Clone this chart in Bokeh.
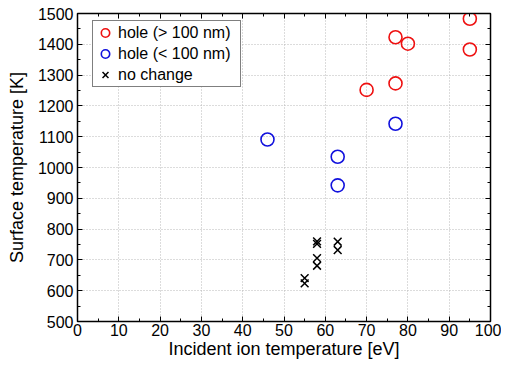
from bokeh.plotting import figure
from bokeh.models import LinearAxis, Range1d, Legend, LegendItem, FixedTicker
from bokeh.embed import file_html
from bokeh.resources import INLINE

# data
big_x = [95, 95, 77, 80, 70, 77]
big_y = [1483, 1383, 1423, 1402, 1252, 1273]
small_x = [46, 63, 63, 77]
small_y = [1091, 1035, 942, 1142]
none_x = [55, 55, 58, 58, 58, 58, 63, 63]
none_y = [641, 624, 760, 752, 706, 681, 759, 732]
x_ticks = [0, 10, 20, 30, 40, 50, 60, 70, 80, 90, 100]
y_ticks = [500, 600, 700, 800, 900, 1000, 1100, 1200, 1300, 1400, 1500]

FONT = "Liberation Sans"

p = figure(frame_width=413, frame_height=308, output_backend="svg", toolbar_location=None,
           x_range=Range1d(0, 100), y_range=Range1d(500, 1500),
           min_border_left=77, min_border_right=11, min_border_top=13, min_border_bottom=30)
p.outline_line_color = "black"
p.outline_line_width = 1.5

for ax in (p.xaxis[0], p.yaxis[0]):
    ax.major_label_text_font = FONT
    ax.major_label_text_font_size = "16px"
    ax.major_label_text_color = "black"
    ax.axis_label_text_font = FONT
    ax.axis_label_text_font_size = "18px"
    ax.axis_label_text_font_style = "normal"
    ax.axis_label_text_color = "black"
    ax.major_tick_in = 5
    ax.major_tick_out = 0
    ax.minor_tick_in = 3
    ax.minor_tick_out = 0
    ax.axis_line_color = "black"
    ax.major_tick_line_color = "black"
    ax.minor_tick_line_color = "black"
p.xaxis.major_label_standoff = 2
p.yaxis.major_label_standoff = 4
p.xaxis.ticker = FixedTicker(ticks=x_ticks, minor_ticks=list(range(0, 101, 5)))
p.yaxis.ticker = FixedTicker(ticks=y_ticks, minor_ticks=list(range(500, 1501, 50)))
p.xaxis.axis_label = "Incident ion temperature [eV]"
p.yaxis.axis_label = "Surface temperature [K]"
p.xaxis.axis_label_standoff = 0
p.yaxis.axis_label_standoff = 8

for loc, ticks, minor in (("right", y_ticks, list(range(500, 1501, 50))),
                           ("above", x_ticks, list(range(0, 101, 5)))):
    a = LinearAxis(ticker=FixedTicker(ticks=ticks, minor_ticks=minor))
    a.major_label_overrides = {t: "" for t in ticks}
    a.major_label_text_font_size = "1px"
    a.major_label_standoff = 0
    a.major_tick_in = 5
    a.major_tick_out = 0
    a.minor_tick_in = 3
    a.minor_tick_out = 0
    a.axis_line_color = "black"
    a.major_tick_line_color = "black"
    a.minor_tick_line_color = "black"
    p.add_layout(a, loc)

p.grid.grid_line_color = "#b8b8b8"
p.grid.grid_line_dash = "1 2"
p.grid.grid_line_width = 1
p.xgrid.ticker = FixedTicker(ticks=x_ticks)
p.ygrid.ticker = FixedTicker(ticks=y_ticks)

r1 = p.scatter(big_x, big_y, marker="circle", size=13, fill_color=None,
               line_color="#ee1111", line_width=1.6)
r2 = p.scatter(small_x, small_y, marker="circle", size=13, fill_color=None,
               line_color="#1111dd", line_width=1.6)
r3 = p.scatter(none_x, none_y, marker="x", size=11, line_color="black", line_width=1.5)

legend = Legend(items=[LegendItem(label="hole (> 100 nm)", renderers=[r1]),
                       LegendItem(label="hole (< 100 nm)", renderers=[r2]),
                       LegendItem(label="no change", renderers=[r3])],
                location=(15, 234))
legend.label_text_font = FONT
legend.label_text_font_size = "16px"
legend.label_text_color = "black"
legend.label_height = 21
legend.glyph_height = 21
legend.glyph_width = 22
legend.label_standoff = 2
legend.spacing = 0
legend.padding = dict(left=1, right=9, top=1, bottom=1)
legend.margin = 0
legend.border_line_color = "black"
legend.border_line_width = 1
legend.background_fill_alpha = 1
p.add_layout(legend)

open("out.html", "w").write(file_html(p, INLINE))
